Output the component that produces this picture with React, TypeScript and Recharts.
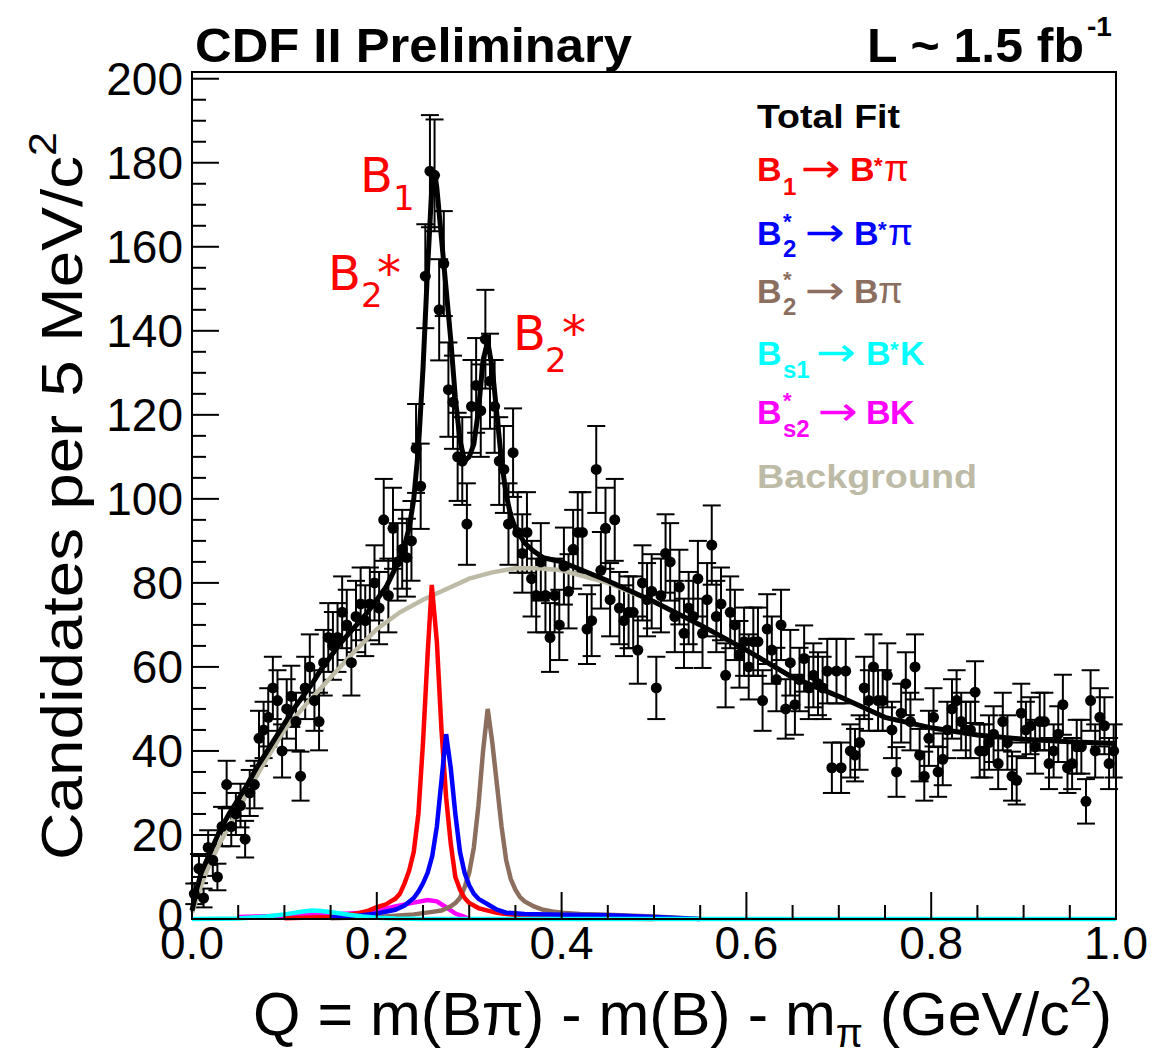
import { ComposedChart, XAxis, YAxis, Scatter, Line, ErrorBar } from "recharts";

// plot frame in page pixels
const PLOT_LEFT = 192;
const PLOT_RIGHT = 1116;
const PLOT_TOP = 72;
const PLOT_BOTTOM = 919;
const W = 1166;
const H = 1058;
const FONT = "'Liberation Sans', Arial, Helvetica, sans-serif";
const DEJAVU = "'DejaVu Sans', sans-serif";

// 5 MeV bins from 0 to 1 GeV
const BIN_WIDTH = 0.005;
const counts = [
  6, 12, 5, 17, 14, 10, 22, 32, 22, 25,
  27, 19, 30, 32, 43, 45, 48, 55, 52, 40,
  50, 53, 47, 34, 55, 60, 52, 47, 61, 67,
  65, 67, 73, 70, 61, 72, 75, 71, 75, 80,
  74, 95, 77, 93, 85, 88, 86, 90, 112, 103,
  153, 178, 177, 145, 156, 126, 123, 110, 109, 94,
  122, 127, 121, 138, 128, 122, 109, 107, 94, 111,
  92, 87, 92, 81, 77, 85, 77, 67, 77, 70,
  84, 78, 88, 92, 92, 69, 71, 107, 83, 93,
  76, 95, 74, 71, 73, 73, 64, 80, 76, 78,
  55, 77, 87, 85, 72, 79, 68, 74, 72, 81,
  68, 76, 89, 72, 75, 58, 73, 70, 63, 66,
  60, 66, 66, 52, 69, 64, 57, 70, 50, 61,
  51, 57, 62, 55, 58, 56, 55, 59, 36, 59,
  36, 59, 40, 39, 42, 55, 52, 60, 52, 52,
  58, 45, 35, 49, 56, 47, 60, 39, 34, 43,
  48, 35, 38, 45, 50, 52, 47, 45, 45, 54,
  40, 40, 42, 44, 37, 47, 42, 34, 33, 49,
  45, 46, 41, 47, 47, 37, 40, 44, 51, 36,
  37, 41, 41, 28, 52, 40, 48, 46, 37, 40,
];

// fit curves as [Q, candidates]
const totalFit: [number, number][] = [
  [0, 2], [0.005, 7], [0.01, 11], [0.02, 16], [0.03, 21], [0.04, 25], [0.05, 28.5],
  [0.06, 32], [0.07, 36], [0.08, 39.5], [0.09, 43], [0.1, 46.5], [0.11, 50], [0.12, 53],
  [0.13, 56], [0.14, 59.5], [0.15, 62.5], [0.16, 65.5], [0.17, 68], [0.18, 70.5],
  [0.19, 73], [0.2, 76], [0.21, 79], [0.22, 83.5], [0.225, 86], [0.23, 89], [0.235, 93],
  [0.24, 100], [0.245, 112], [0.25, 131], [0.255, 155], [0.26, 176], [0.2625, 178],
  [0.265, 174], [0.27, 162], [0.275, 150], [0.28, 138], [0.285, 124], [0.29, 114],
  [0.295, 109], [0.3, 110], [0.305, 113], [0.31, 121], [0.315, 133], [0.32, 137.5],
  [0.325, 131], [0.33, 120], [0.335, 109], [0.34, 101], [0.345, 96], [0.35, 93],
  [0.36, 89.5], [0.37, 87.5], [0.38, 86], [0.39, 85.5], [0.4, 85], [0.45, 80.5],
  [0.5, 75.5], [0.55, 70], [0.6, 64], [0.65, 57.5], [0.7, 53], [0.75, 48], [0.8, 45.5],
  [0.85, 43.8], [0.9, 42.8], [0.95, 42.2], [1.0, 41.8],
];
const background: [number, number][] = [
  [0, 1.5], [0.01, 8], [0.02, 13.5], [0.03, 18], [0.05, 26], [0.075, 36], [0.1, 45],
  [0.125, 51.5], [0.15, 57.5], [0.175, 63.5], [0.2, 69], [0.225, 73], [0.25, 76],
  [0.275, 78.5], [0.3, 81], [0.325, 82.5], [0.35, 83.5], [0.375, 83.5], [0.4, 83],
  [0.45, 80], [0.5, 75.5], [0.55, 70], [0.6, 64], [0.65, 57.5], [0.7, 53], [0.75, 48],
  [0.8, 45.5], [0.85, 43.8], [0.9, 42.8], [0.95, 42.2], [1.0, 41.8],
];
const b1ToBstarPi: [number, number][] = [
  [0.1, 0.2], [0.15, 0.5], [0.17, 1.0], [0.18, 1.4], [0.19, 1.9], [0.2, 2.8], [0.21, 3.5],
  [0.215, 4.2], [0.22, 4.8], [0.225, 6], [0.23, 8.5], [0.235, 11.5], [0.24, 16],
  [0.245, 25], [0.25, 42], [0.255, 63], [0.2595, 79.5], [0.265, 66], [0.27, 45],
  [0.275, 29], [0.28, 18], [0.285, 10], [0.29, 7], [0.295, 5], [0.3, 3.8], [0.31, 2.6],
  [0.32, 2.0], [0.33, 1.5], [0.34, 1.2], [0.36, 0.7], [0.4, 0.3], [0.45, 0.1], [0.5, 0],
];
const b2ToBstarPi: [number, number][] = [
  [0.15, 0.4], [0.18, 0.8], [0.2, 1.3], [0.22, 2.2], [0.23, 3.2], [0.24, 5], [0.245, 6.5],
  [0.25, 8.5], [0.255, 11], [0.26, 15], [0.265, 22], [0.27, 33], [0.275, 44], [0.28, 36],
  [0.285, 25], [0.29, 16], [0.295, 11], [0.3, 8], [0.305, 6], [0.31, 4.8], [0.32, 3.5],
  [0.33, 2.2], [0.34, 1.5], [0.36, 1.2], [0.4, 1.0], [0.45, 0.9], [0.5, 0.5], [0.55, 0],
];
const b2ToBPi: [number, number][] = [
  [0.15, 0.2], [0.2, 0.5], [0.22, 0.8], [0.24, 1.1], [0.25, 1.4], [0.26, 1.7], [0.27, 2.0],
  [0.28, 3.0], [0.285, 3.8], [0.29, 5], [0.295, 7.5], [0.3, 11], [0.305, 17], [0.31, 27],
  [0.315, 40], [0.32, 50], [0.325, 42], [0.33, 32], [0.335, 22], [0.34, 14], [0.345, 9.5],
  [0.35, 7], [0.355, 5.2], [0.36, 4.2], [0.37, 3], [0.38, 2.2], [0.39, 1.8], [0.4, 1.5],
  [0.42, 1.2], [0.45, 1.0], [0.5, 0.6], [0.55, 0],
];
const bs2ToBK: [number, number][] = [
  [0.05, 0.5], [0.1, 0.8], [0.15, 1.1], [0.18, 1.4], [0.2, 2.0], [0.22, 3.0], [0.24, 3.9],
  [0.255, 4.5], [0.265, 4.2], [0.275, 2.8], [0.285, 1.3], [0.295, 0.5], [0.3, 0],
];
const bs1ToBstarK: [number, number][] = [
  [0, 0], [0.05, 0.1], [0.08, 0.6], [0.1, 1.1], [0.12, 1.8], [0.13, 2.0], [0.14, 1.9],
  [0.155, 1.5], [0.17, 1.0], [0.185, 0.6], [0.2, 0.3], [0.22, 0.1], [0.25, 0], [1.0, 0],
];

const xTicks = [
  0, 0.05, 0.1, 0.15, 0.2, 0.25, 0.3, 0.35, 0.4, 0.45, 0.5,
  0.55, 0.6, 0.65, 0.7, 0.75, 0.8, 0.85, 0.9, 0.95, 1.0,
];
const yTicks = [
  0, 5, 10, 15, 20, 25, 30, 35, 40, 45, 50, 55, 60, 65, 70, 75, 80, 85, 90, 95, 100,
  105, 110, 115, 120, 125, 130, 135, 140, 145, 150, 155, 160, 165, 170, 175, 180,
  185, 190, 195, 200,
];

const RED = "#ff0000";
const BLUE = "#0000ff";
const BROWN = "#8c6e5f";
const CYAN = "#00ffff";
const MAGENTA = "#ff00ff";
const BKG = "#bdbaa6";

// Poisson errors on the counts
const points = counts.map((n, i) => ({ q: (i + 0.5) * BIN_WIDTH, n, err: Math.sqrt(n) }));
const rows = (pairs: [number, number][]) => pairs.map(([q, n]) => ({ q, n }));

const XTick = (props: any) => {
  const { x, payload } = props;
  const v = payload.value;
  const major = Math.abs(v * 5 - Math.round(v * 5)) < 1e-6;
  return (
    <g>
      <line x1={x} x2={x} y1={PLOT_BOTTOM} y2={PLOT_BOTTOM - (major ? 27 : 14)} stroke="#000" strokeWidth={2} />
      {major && (
        <text x={x} y={959} textAnchor="middle" fontSize={46} fontFamily={FONT} fill="#000">
          {v.toFixed(1)}
        </text>
      )}
    </g>
  );
};

const YTick = (props: any) => {
  const { y, payload } = props;
  const v = payload.value;
  const major = v % 20 === 0;
  return (
    <g>
      <line x1={PLOT_LEFT} x2={PLOT_LEFT + (major ? 27 : 14)} y1={y} y2={y} stroke="#000" strokeWidth={2} />
      {major && (
        <text x={183} y={v === 0 ? y + 12 : y + 16} textAnchor="end" fontSize={46} fontFamily={FONT} fill="#000">
          {v}
        </text>
      )}
    </g>
  );
};

const Dot = (props: any) => <circle cx={props.cx} cy={props.cy} r={5.5} fill="#000" />;

function Overlay() {
  const lg = { fontFamily: FONT, fontWeight: 700, fontSize: 34 } as const;
  const thin = { fontFamily: FONT, fontWeight: 400, fontSize: 36 } as const;
  const arrow = { fontFamily: DEJAVU, fontWeight: 400, fontSize: 40 } as const;
  const sub = { fontFamily: FONT, fontWeight: 700, fontSize: 24 } as const;
  const star = { fontFamily: FONT, fontWeight: 700, fontSize: 22 } as const;
  return (
    <svg width={W} height={H} style={{ position: "absolute", left: 0, top: 0, pointerEvents: "none" }}>
      <rect x={PLOT_LEFT} y={PLOT_TOP} width={PLOT_RIGHT - PLOT_LEFT} height={PLOT_BOTTOM - PLOT_TOP} fill="none" stroke="#000" strokeWidth={2} />

      {/* header */}
      <text x={195} y={62} fontFamily={FONT} fontWeight={700} fontSize={48} textLength={437} lengthAdjust="spacingAndGlyphs">CDF II Preliminary</text>
      <text x={867} y={62} fontFamily={FONT} fontWeight={700} fontSize={48} textLength={217} lengthAdjust="spacingAndGlyphs">L ~ 1.5 fb</text>
      <text x={1087} y={36} fontFamily={FONT} fontWeight={700} fontSize={28}>-1</text>

      {/* axis titles */}
      <text transform="translate(82,860) rotate(-90)" fontFamily={FONT} fontSize={58} textLength={728} lengthAdjust="spacingAndGlyphs">
        Candidates per 5 MeV/c<tspan fontSize={38} dy={-26}>2</tspan>
      </text>
      <text x={253} y={1035} fontFamily={FONT} fontSize={62} textLength={859} lengthAdjust="spacingAndGlyphs">
        Q = m(Bπ) - m(B) - m<tspan fontSize={40} dy={12}>π</tspan><tspan dy={-12}> (GeV/c</tspan><tspan fontSize={40} dy={-30}>2</tspan><tspan dy={30}>)</tspan>
      </text>

      {/* peak labels */}
      <g fill={RED} fontFamily={DEJAVU}>
        <text x={360} y={192} fontSize={48}>B</text>
        <text x={393} y={210} fontSize={34}>1</text>
        <text x={328} y={290} fontSize={48}>B</text>
        <text x={361} y={307} fontSize={34}>2</text>
        <text x={377} y={290} fontSize={48}>*</text>
        <text x={513} y={350} fontSize={48}>B</text>
        <text x={545} y={372} fontSize={34}>2</text>
        <text x={562} y={350} fontSize={48}>*</text>
      </g>

      {/* legend */}
      <text x={757} y={128} {...lg} fill="#000" textLength={143} lengthAdjust="spacingAndGlyphs">Total Fit</text>

      <g fill={RED}>
        <text x={757} y={181} {...lg}>B</text>
        <text x={783} y={195} {...sub}>1</text>
        <text x={801} y={182} {...arrow} textLength={40} lengthAdjust="spacingAndGlyphs">→</text>
        <text x={850} y={181} {...lg}>B</text>
        <text x={874} y={173} {...star}>*</text>
        <text x={884} y={181} {...thin}>π</text>
      </g>

      <g fill={BLUE}>
        <text x={757} y={245} {...lg}>B</text>
        <text x={783} y={229} {...star}>*</text>
        <text x={783} y={257} {...sub}>2</text>
        <text x={805} y={246} {...arrow} textLength={40} lengthAdjust="spacingAndGlyphs">→</text>
        <text x={854} y={245} {...lg}>B</text>
        <text x={878} y={237} {...star}>*</text>
        <text x={888} y={245} {...thin}>π</text>
      </g>

      <g fill={BROWN}>
        <text x={757} y={303} {...lg}>B</text>
        <text x={783} y={287} {...star}>*</text>
        <text x={783} y={315} {...sub}>2</text>
        <text x={805} y={304} {...arrow} textLength={40} lengthAdjust="spacingAndGlyphs">→</text>
        <text x={854} y={303} {...lg}>B</text>
        <text x={878} y={303} {...thin}>π</text>
      </g>

      <g fill={CYAN}>
        <text x={757} y={365} {...lg}>B</text>
        <text x={783} y={378} {...sub}>s1</text>
        <text x={816} y={366} {...arrow} textLength={40} lengthAdjust="spacingAndGlyphs">→</text>
        <text x={866} y={365} {...lg}>B</text>
        <text x={890} y={357} {...star}>*</text>
        <text x={900} y={365} {...lg}>K</text>
      </g>

      <g fill={MAGENTA}>
        <text x={757} y={424} {...lg}>B</text>
        <text x={783} y={408} {...star}>*</text>
        <text x={783} y={437} {...sub}>s2</text>
        <text x={818} y={425} {...arrow} textLength={40} lengthAdjust="spacingAndGlyphs">→</text>
        <text x={866} y={424} {...lg}>B</text>
        <text x={890} y={424} {...lg}>K</text>
      </g>

      <text x={757} y={488} {...lg} fill={BKG} textLength={220} lengthAdjust="spacingAndGlyphs">Background</text>
    </svg>
  );
}

export default function App() {
  const curve = (data: [number, number][], color: string, width = 4.5) => (
    <Line
      data={rows(data)}
      dataKey="n"
      type="linear"
      stroke={color}
      strokeWidth={width}
      dot={false}
      activeDot={false}
      isAnimationActive={false}
    />
  );
  return (
    <div style={{ position: "absolute", left: 0, top: 0, width: W, height: H, background: "#fff" }}>
      <ComposedChart
        width={W}
        height={H}
        margin={{ top: PLOT_TOP, right: W - PLOT_RIGHT, bottom: H - PLOT_BOTTOM - 60, left: PLOT_LEFT - 60 }}
      >
        <XAxis
          type="number"
          dataKey="q"
          domain={[0, 1]}
          ticks={xTicks}
          interval={0}
          height={60}
          axisLine={false}
          tickLine={false}
          tick={<XTick />}
        />
        <YAxis
          type="number"
          domain={[0, 201.6]}
          ticks={yTicks}
          interval={0}
          width={60}
          axisLine={false}
          tickLine={false}
          tick={<YTick />}
        />
        <Scatter data={points} dataKey="n" shape={<Dot />} isAnimationActive={false}>
          <ErrorBar dataKey="err" direction="y" width={9} stroke="#000" strokeWidth={2} isAnimationActive={false} />
        </Scatter>
        {curve(background, BKG)}
        {curve(totalFit, "#000", 5)}
        {curve(bs2ToBK, MAGENTA)}
        {curve(b2ToBPi, BROWN)}
        {curve(b1ToBstarPi, RED)}
        {curve(b2ToBstarPi, BLUE)}
        {curve(bs1ToBstarK, CYAN)}
      </ComposedChart>
      <Overlay />
    </div>
  );
}
